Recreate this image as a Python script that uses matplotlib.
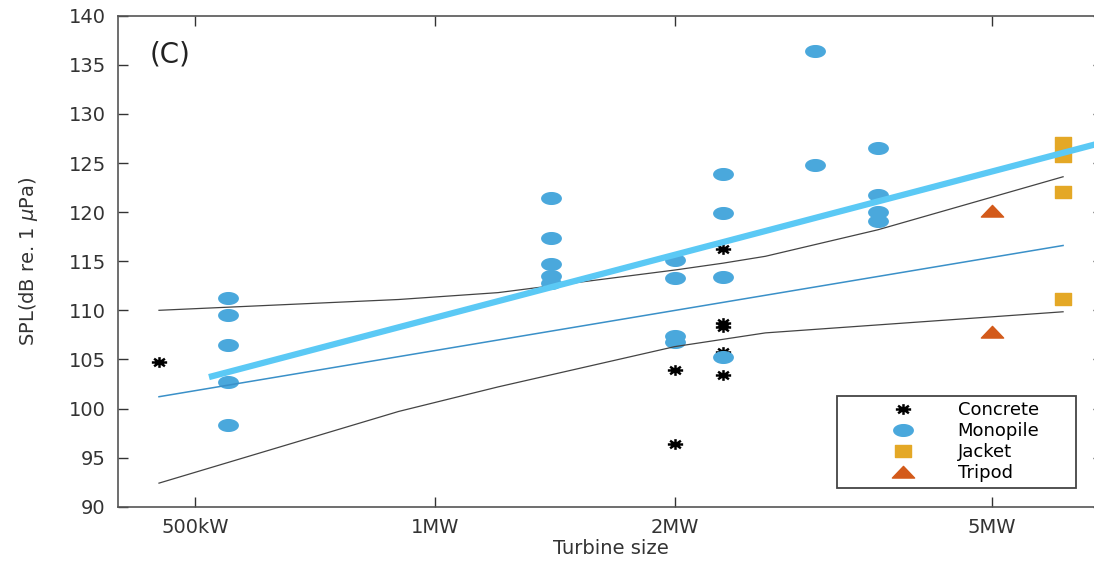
import numpy as np
import matplotlib
matplotlib.use('Agg')
import matplotlib.pyplot as plt
from matplotlib.path import Path
from matplotlib.legend_handler import HandlerLine2D

plt.rcParams['font.family'] = ['DejaVu Sans']
plt.rcParams['mathtext.fontset'] = 'dejavusans'

# Turbine size in MW, SPL in dB re 1 uPa
concrete_x = [0.45, 2.0, 2.0, 2.3, 2.3, 2.3, 2.3, 2.3]
concrete_y = [104.7, 103.9, 96.4, 116.2, 108.7, 108.3, 105.8, 103.4]

monopile_x = [0.55, 0.55, 0.55, 0.55, 0.55,
              1.4, 1.4, 1.4, 1.4, 1.4,
              2.0, 2.0, 2.0, 2.0,
              2.3, 2.3, 2.3, 2.3,
              3.0, 3.0,
              3.6, 3.6, 3.6, 3.6]
monopile_y = [111.3, 109.55, 106.5, 102.7, 98.35,
              121.4, 117.4, 114.75, 113.5, 112.8,
              115.15, 113.3, 107.35, 106.8,
              123.9, 119.9, 113.4, 105.2,
              136.4, 124.8,
              126.5, 121.7, 120.0, 119.05]

jacket_x = [6.15, 6.15, 6.15, 6.15]
jacket_y = [127.0, 125.7, 122.0, 111.15]

tripod_x = [5.0, 5.0]
tripod_y = [120.1, 107.8]

# regression line and confidence bounds
fit_x = [0.45, 6.15]
fit_y = [101.2, 116.6]
upper_x = [0.45, 0.9, 1.2, 2.0, 2.3, 2.6, 3.6, 6.15]
upper_y = [110.0, 111.1, 111.8, 114.1, 114.8, 115.5, 118.2, 123.6]
lower_x = [0.45, 0.9, 1.2, 2.0, 2.6, 6.15]
lower_y = [92.4, 99.7, 102.2, 106.3, 107.7, 109.85]

# thick trend line
trend_x = [0.52, 6.9]
trend_y = [103.2, 127.1]

xticks = [0.5, 1, 2, 5]
xticklabels = ['500kW', '1MW', '2MW', '5MW']
yticks = list(range(90, 141, 5))

# stretched marker shapes (picture is wider than tall)
t = np.linspace(0, 2 * np.pi, 40)
ellipse = Path(np.column_stack([np.cos(t), 0.6 * np.sin(t)]), closed=True)
rect = Path([(-1, -0.72), (1, -0.72), (1, 0.72), (-1, 0.72), (-1, -0.72)], closed=True)
tri = Path([(-1, -0.5), (1, -0.5), (0, 0.55), (-1, -0.5)], closed=True)
verts, codes = [], []
for a in np.deg2rad([0, 45, 90, 135]):
    dx, dy = np.cos(a), 0.7 * np.sin(a)
    verts += [(-dx, -dy), (dx, dy)]
    codes += [Path.MOVETO, Path.LINETO]
star = Path(verts, codes)

fig = plt.figure(figsize=(10.94, 5.63), dpi=100)
ax = fig.add_axes([0.1081, 0.1, 0.9, 0.8721])

ax.plot(concrete_x, concrete_y, linestyle='none', marker=star, markersize=11,
        markerfacecolor='none', markeredgecolor='black', markeredgewidth=1.8, label='Concrete')
ax.plot(monopile_x, monopile_y, linestyle='none', marker=ellipse, markersize=14,
        markerfacecolor='#4aa8dc', markeredgecolor='#4aa8dc', label='Monopile')
ax.plot(jacket_x, jacket_y, linestyle='none', marker=rect, markersize=12,
        markerfacecolor='#e4a826', markeredgecolor='#e4a826', label='Jacket')
ax.plot(tripod_x, tripod_y, linestyle='none', marker=tri, markersize=16,
        markerfacecolor='#d35a1a', markeredgecolor='#d35a1a', label='Tripod')

ax.plot(upper_x, upper_y, color='#444444', linewidth=0.9)
ax.plot(lower_x, lower_y, color='#444444', linewidth=0.9)
ax.plot(fit_x, fit_y, color='#3a90c8', linewidth=1.1)
ax.plot(trend_x, trend_y, color='#5bc9f5', linewidth=4.5, solid_capstyle='butt')

ax.set_xscale('log')
ax.set_xlim(0.4, 6.9)
ax.set_ylim(90, 140)
ax.set_xticks(xticks)
ax.set_xticklabels(xticklabels)
ax.minorticks_off()
ax.set_yticks(yticks)

for s in ax.spines.values():
    s.set_color('#555555')
    s.set_linewidth(1.2)
ax.tick_params(direction='in', length=7, width=1, color='#333333',
               labelsize=14, labelcolor='#333333', top=True, right=True)
ax.tick_params(axis='y', pad=9)
ax.tick_params(axis='x', pad=8)

ax.set_xlabel('Turbine size', fontsize=14, color='#333333')
ax.set_ylabel(r'SPL(dB re. 1 $\mu$Pa)', fontsize=14, color='#333333')
ax.xaxis.set_label_coords(0.5, -0.066)
ax.yaxis.set_label_coords(-0.079, 0.5)

ax.text(0.032, 0.92, '(C)', transform=ax.transAxes, fontsize=20, va='center', color='#222222')

leg = ax.legend(loc='upper left', mode='expand',
                bbox_to_anchor=(836.7 / 1094, 76 / 563, 239 / 1094, 91 / 563),
                bbox_transform=fig.transFigure, borderaxespad=0,
                fontsize=13, handlelength=5.9, handletextpad=0.5, labelspacing=0.16,
                borderpad=0.3, fancybox=False, framealpha=1, edgecolor='#444444',
                handler_map={matplotlib.lines.Line2D: HandlerLine2D(xpad=0.8)})
leg.get_frame().set_linewidth(1.3)

fig.savefig('out.png', dpi=100)
